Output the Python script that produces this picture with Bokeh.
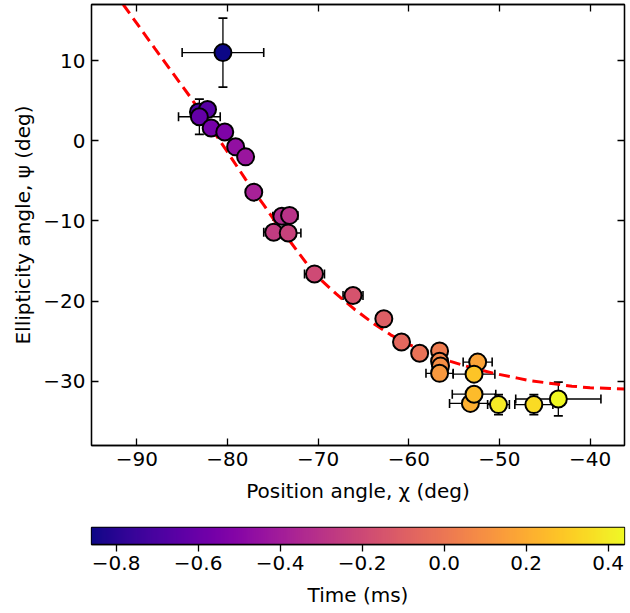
import numpy as np
from bokeh.plotting import figure
from bokeh.models import (ColumnDataSource, LinearColorMapper, Whisker, TeeHead,
                          LinearAxis, FixedTicker, CustomJSTickFormatter, Range1d)
from bokeh.palettes import Plasma256
from bokeh.layouts import column
from bokeh.transform import transform
from bokeh.embed import file_html
from bokeh.resources import INLINE

# ---- data ----
chi = [-80.5, -83.2, -82.2, -83.1, -81.8, -80.3, -79.1, -78.0, -77.1, -74.0, -73.15,
       -74.9, -73.3, -70.4, -66.15, -62.75, -60.8, -58.8, -56.6, -56.6, -56.5, -56.6,
       -52.4, -53.2, -52.8, -52.8, -46.2, -50.1, -43.5]
psi = [11.0, 3.6, 3.9, 3.0, 1.6, 1.1, -0.75, -2.0, -6.4, -9.4, -9.3,
       -11.4, -11.5, -16.6, -19.3, -22.2, -25.1, -26.5, -26.2, -27.5, -28.1, -29.0,
       -27.6, -32.75, -31.6, -29.1, -32.9, -32.9, -32.2]
time_ms = [-0.86, -0.70, -0.66, -0.62, -0.56, -0.53, -0.46, -0.43, -0.38, -0.33, -0.30,
           -0.26, -0.23, -0.19, -0.15, -0.10, -0.06, -0.02, 0.02, 0.06, 0.09, 0.13,
           0.17, 0.21, 0.25, 0.28, 0.35, 0.39, 0.44]
chi_err = [4.5, 0.3, 0.3, 2.3, 0.3, 0.3, 0.3, 0.3, 0.3, 1.0, 0.9,
           1.1, 1.4, 1.1, 1.1, 0.3, 0.3, 0.3, 0.3, 0.8, 0.8, 1.5,
           1.6, 2.3, 2.4, 2.3, 2.1, 1.2, 4.7]
psi_err = [4.3, 0.3, 0.3, 2.2, 0.3, 0.3, 0.3, 0.3, 0.3, 0.3, 0.3,
           0.3, 0.3, 0.3, 0.3, 0.3, 0.3, 0.3, 0.3, 0.3, 0.3, 0.3,
           0.3, 0.3, 0.3, 0.8, 1.25, 1.25, 2.1]

# model curve
chi_fit = [-91.5, -88, -84, -80, -78, -77.1, -76, -74.7, -72, -70.4, -68, -66, -64, -62,
           -60, -58, -56, -55.4, -54, -52, -50.6, -48, -46.7, -44, -42, -40, -37.5, -36.2]
psi_fit = [17.0, 11.5, 5.3, -1.4, -4.8, -6.3, -8.0, -10.1, -14.2, -16.6, -19.1, -21.0,
           -22.7, -24.2, -25.4, -26.4, -27.2, -27.5, -28.0, -28.6, -29.0, -29.6, -29.9,
           -30.3, -30.6, -30.8, -30.9, -30.95]

x_ticks = [-90, -80, -70, -60, -50, -40]
y_ticks = [-30, -20, -10, 0, 10]
cb_ticks = [-0.8, -0.6, -0.4, -0.2, 0.0, 0.2, 0.4]

FONT = "DejaVu Sans"
FS = "20px"

src = ColumnDataSource(dict(
    chi=chi, psi=psi, t=time_ms,
    xl=[c - e for c, e in zip(chi, chi_err)], xu=[c + e for c, e in zip(chi, chi_err)],
    yl=[p - e for p, e in zip(psi, psi_err)], yu=[p + e for p, e in zip(psi, psi_err)],
))

tmin, tmax = min(time_ms), max(time_ms)
mapper = LinearColorMapper(palette=Plasma256, low=tmin, high=tmax)

p = figure(width=626, height=517, output_backend="svg", toolbar_location=None,
           x_range=Range1d(-95, -36.2), y_range=Range1d(-38, 17),
           min_border_left=89, min_border_right=2, min_border_top=4, min_border_bottom=72)
p.grid.visible = False
p.outline_line_color = "black"
p.outline_line_width = 1.3

int_fmt = CustomJSTickFormatter(code="return tick.toFixed(0).replace('-', '\u2212');")

def style_axis(ax, labels=True):
    ax.axis_line_color = "black"
    ax.axis_line_width = 1.3
    ax.major_tick_in = 7
    ax.major_tick_out = 0
    ax.major_tick_line_width = 1.3
    ax.major_tick_line_color = "black"
    ax.minor_tick_line_color = None
    ax.major_label_text_font = FONT
    ax.major_label_text_font_size = FS
    ax.axis_label_text_font = FONT
    ax.axis_label_text_font_style = "normal"
    ax.axis_label_text_font_size = FS
    ax.axis_label_text_color = "black"
    if labels:
        ax.major_label_text_color = "black"
    else:
        ax.major_label_text_color = None
        ax.major_label_standoff = 0

p.xaxis.ticker = FixedTicker(ticks=x_ticks)
p.yaxis.ticker = FixedTicker(ticks=y_ticks)
p.xaxis.formatter = int_fmt
p.yaxis.formatter = int_fmt
p.xaxis.axis_label = "Position angle, \u03c7 (deg)"
p.yaxis.axis_label = "Ellipticity angle, \u03c8 (deg)"
style_axis(p.xaxis[0])
style_axis(p.yaxis[0])
p.xaxis.major_label_standoff = 6
p.yaxis.major_label_standoff = 6
p.xaxis.axis_label_standoff = 10

top = LinearAxis(ticker=FixedTicker(ticks=x_ticks), formatter=int_fmt)
style_axis(top, labels=False)
p.add_layout(top, "above")
right = LinearAxis(ticker=FixedTicker(ticks=y_ticks), formatter=int_fmt)
style_axis(right, labels=False)
p.add_layout(right, "right")

p.line(chi_fit, psi_fit, line_color="red", line_width=3, line_dash="11 6")

for w in (
    Whisker(source=src, base="chi", lower="yl", upper="yu", dimension="height"),
    Whisker(source=src, base="psi", lower="xl", upper="xu", dimension="width"),
):
    w.line_color = "black"
    w.line_width = 1.3
    w.upper_head = TeeHead(size=9, line_width=1.6, line_color="black")
    w.lower_head = TeeHead(size=9, line_width=1.6, line_color="black")
    w.level = "underlay"
    p.add_layout(w)

p.scatter("chi", "psi", source=src, size=17, marker="circle",
          fill_color=transform("t", mapper), line_color="black", line_width=2)

# ---- colour bar figure ----
cb = figure(width=626, height=94, output_backend="svg", toolbar_location=None,
            x_range=Range1d(tmin, tmax), y_range=Range1d(0, 1),
            y_axis_location=None, min_border_left=91, min_border_right=2,
            min_border_top=10, min_border_bottom=67)
cb.grid.visible = False
cb.outline_line_color = "black"
cb.outline_line_width = 1.3
grad = np.linspace(tmin, tmax, 512).reshape(1, -1)
cb.image(image=[grad], x=tmin, y=0, dw=tmax - tmin, dh=1, color_mapper=mapper)
cb.xaxis.ticker = FixedTicker(ticks=cb_ticks)
cb.xaxis.formatter = CustomJSTickFormatter(code="return tick.toFixed(1).replace('-', '\u2212');")
cb.xaxis.axis_label = "Time (ms)"
style_axis(cb.xaxis[0])
cb.xaxis.major_tick_in = 0
cb.xaxis.major_tick_out = 7
cb.xaxis.major_label_standoff = 4
cb.xaxis.axis_label_standoff = 10

layout = column(p, cb)
open("out.html", "w").write(file_html(layout, INLINE))
